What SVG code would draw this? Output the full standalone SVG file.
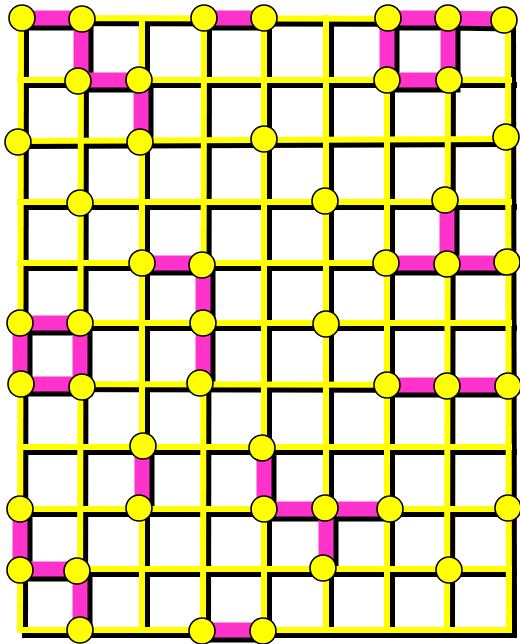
<svg xmlns="http://www.w3.org/2000/svg" xmlns:xlink="http://www.w3.org/1999/xlink" width="520" height="644" viewBox="0 0 520 644">
<style>
.grid{fill:none;stroke-width:6;stroke-linecap:square;stroke-linejoin:miter}
.pinkl{fill:none;stroke-width:15;stroke-linecap:butt;stroke-linejoin:miter}
.node circle{fill:#ffff00;stroke:#000;stroke-width:1.6}
</style>
<defs>
<g id="lines">
<path d="M21,18 L508,19"/>
<path d="M20,80 H509"/>
<path d="M20,141 L507,139"/>
<path d="M20,202 H509"/>
<path d="M20,263 H508"/>
<path d="M20,323 H509"/>
<path d="M20,384 L509,385"/>
<path d="M20,447 H509"/>
<path d="M20,509 H509"/>
<path d="M20,569 H509"/>
<path d="M20,630 H509"/>
<path d="M21,18 L20,630"/>
<path d="M81,18 L80,630"/>
<path d="M142,18 V630"/>
<path d="M204,18 L203,630"/>
<path d="M264,18 V630"/>
<path d="M326,18 V630"/>
<path d="M387,18 V630"/>
<path d="M448,18 L447,630"/>
<path d="M508,19 L509,630"/>
</g>
<g id="pinks">
<path d="M21,18 H81 V80 H141 V141"/>
<path d="M204,18 H264"/>
<path d="M387,18 H448 L505,19 M387,18 V80 H448 V18"/>
<path d="M447,202 V263 M387,263 H447 L508,263"/>
<path d="M142,263 H203 V384"/>
<path d="M20,323 H80 V384 H20 Z"/>
<path d="M387,385 H447 L509,385"/>
<path d="M142,447 V509"/>
<path d="M264,447 V509 H387 M326,509 V569"/>
<path d="M20,509 V569 H80 V630"/>
<path d="M203,630 H264"/>
</g>
</defs>
<g id="connectors">
<use xlink:href="#lines" class="grid" stroke="#000000" transform="translate(5,5)"/>
<use xlink:href="#pinks" class="pinkl" stroke="#000000" transform="translate(5,5)"/>
<use xlink:href="#lines" class="grid" stroke="#ffff00"/>
<use xlink:href="#pinks" class="pinkl" stroke="#ff33cc"/>
</g>
<g id="nodes">
<g class="node" id="n0-0"><circle cx="22" cy="18" r="13"/></g>
<g class="node" id="n0-1"><circle cx="82" cy="19" r="13"/></g>
<g class="node" id="n0-3"><circle cx="204" cy="18" r="13"/></g>
<g class="node" id="n0-4"><circle cx="264" cy="18" r="13"/></g>
<g class="node" id="n0-6"><circle cx="388" cy="18" r="13"/></g>
<g class="node" id="n0-7"><circle cx="448" cy="18" r="13"/></g>
<g class="node" id="n0-8"><circle cx="504" cy="20" r="13"/></g>
<g class="node" id="n1-1"><circle cx="78" cy="81" r="13"/></g>
<g class="node" id="n1-2"><circle cx="139" cy="80" r="13"/></g>
<g class="node" id="n1-6"><circle cx="387" cy="80" r="13"/></g>
<g class="node" id="n1-7"><circle cx="449" cy="80" r="13"/></g>
<g class="node" id="n2-0"><circle cx="18" cy="142" r="13"/></g>
<g class="node" id="n2-2"><circle cx="140" cy="142" r="13"/></g>
<g class="node" id="n2-4"><circle cx="264" cy="139" r="13"/></g>
<g class="node" id="n2-8"><circle cx="506" cy="137" r="13"/></g>
<g class="node" id="n3-1"><circle cx="80" cy="203" r="13"/></g>
<g class="node" id="n3-5"><circle cx="325" cy="201" r="13"/></g>
<g class="node" id="n3-7"><circle cx="445" cy="200" r="13"/></g>
<g class="node" id="n4-2"><circle cx="142" cy="263" r="13"/></g>
<g class="node" id="n4-3"><circle cx="202" cy="265" r="13"/></g>
<g class="node" id="n4-6"><circle cx="386" cy="263" r="13"/></g>
<g class="node" id="n4-7"><circle cx="447" cy="264" r="13"/></g>
<g class="node" id="n4-8"><circle cx="507" cy="262" r="13"/></g>
<g class="node" id="n5-0"><circle cx="20" cy="323" r="13"/></g>
<g class="node" id="n5-1"><circle cx="80" cy="323" r="13"/></g>
<g class="node" id="n5-3"><circle cx="203" cy="323" r="13"/></g>
<g class="node" id="n5-5"><circle cx="326" cy="324" r="13"/></g>
<g class="node" id="n6-0"><circle cx="21" cy="384" r="13"/></g>
<g class="node" id="n6-1"><circle cx="82" cy="387" r="13"/></g>
<g class="node" id="n6-3"><circle cx="200" cy="383" r="13"/></g>
<g class="node" id="n6-6"><circle cx="387" cy="385" r="13"/></g>
<g class="node" id="n6-7"><circle cx="447" cy="386" r="13"/></g>
<g class="node" id="n6-8"><circle cx="508" cy="386" r="13"/></g>
<g class="node" id="n7-2"><circle cx="143" cy="446" r="13"/></g>
<g class="node" id="n7-4"><circle cx="262" cy="448" r="13"/></g>
<g class="node" id="n8-0"><circle cx="20" cy="509" r="13"/></g>
<g class="node" id="n8-2"><circle cx="139" cy="508" r="13"/></g>
<g class="node" id="n8-4"><circle cx="264" cy="509" r="13"/></g>
<g class="node" id="n8-5"><circle cx="325" cy="508" r="13"/></g>
<g class="node" id="n8-6"><circle cx="390" cy="509" r="13"/></g>
<g class="node" id="n8-8"><circle cx="508" cy="508" r="13"/></g>
<g class="node" id="n9-0"><circle cx="20" cy="570" r="13"/></g>
<g class="node" id="n9-1"><circle cx="77" cy="571" r="13"/></g>
<g class="node" id="n9-5"><circle cx="323" cy="568" r="13"/></g>
<g class="node" id="n9-7"><circle cx="449" cy="570" r="13"/></g>
<g class="node" id="n10-1"><circle cx="80" cy="630" r="13"/></g>
<g class="node" id="n10-3"><circle cx="202" cy="631" r="13"/></g>
<g class="node" id="n10-4"><circle cx="263" cy="631" r="13"/></g>
</g>
</svg>
